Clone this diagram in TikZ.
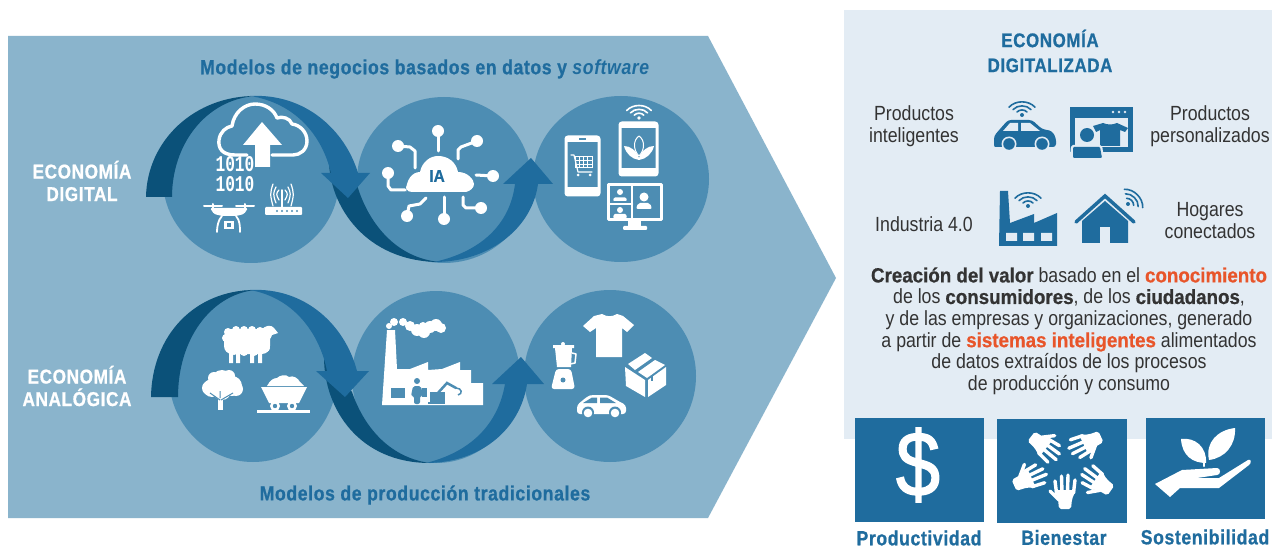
\documentclass[tikz,border=0pt]{standalone}
\usepackage{fontspec}
\setmainfont{Liberation Sans}[FakeStretch=0.865,BoldFeatures={FakeStretch=0.915,FakeBold=0.6}]
\newfontfamily\titlef{Liberation Sans}[FakeStretch=0.86,LetterSpace=3,BoldFeatures={FakeBold=0.8}]
\newfontfamily\monof{Liberation Mono}[FakeStretch=0.72]
\newfontfamily\dollarf{Liberation Sans}[FakeStretch=0.86,FakeBold=1.5]
\definecolor{bgblue}{HTML}{8AB4CC}
\definecolor{circ}{HTML}{4D8DB3}
\definecolor{darkb}{HTML}{0B5179}
\definecolor{midb}{HTML}{1F6C9E}
\definecolor{panel}{HTML}{E3ECF4}
\definecolor{accent}{HTML}{E8552A}
\definecolor{bodyc}{HTML}{333333}
\tikzset{
 wl/.style={draw=white,line width=#1,line cap=round,line join=round,fill=none},
 wl/.default=2.5,
 ttl/.style={font=\titlef\bfseries\fontsize{20.5}{24}\selectfont,text=midb,align=center,inner sep=0pt},
 wttl/.style={font=\titlef\bfseries\fontsize{20}{22.5}\selectfont,text=white,align=center,inner sep=0pt},
 bodyt/.style={font=\fontsize{20.5}{22}\selectfont,text=bodyc,align=center,inner sep=0pt},
}
% wifi: x,y,scale,colour,rotation
\newcommand{\wifisym}[5]{%
 \begin{scope}[shift={(#1,#2)},rotate=#5,scale=#3]
  \fill[#4] (0,0) circle[radius=2];
  \foreach \a in {5,9,13}{
   \draw[#4,line width=1.6pt,line cap=round] (-\a,-\a*0.6) .. controls (-\a*0.5,-\a*1.15) and (\a*0.5,-\a*1.15) .. (\a,-\a*0.6);
  }
 \end{scope}}
\newcommand{\handsym}[3]{%
 \begin{scope}[shift={(#1,#2)},rotate=#3]
  \fill[white,rounded corners=2] (-6,1) -- (6,1) -- (7,-9) -- (11,-18) -- (-11,-18) -- (-7,-9) -- cycle;
  \draw[white,line width=3.4pt,line cap=round] (-8.5,-15) -- (-10,-27) (-3,-16) -- (-3.5,-32) (2.5,-16) -- (3,-33) (8.5,-15) -- (10,-28) (-6,-8) -- (-15,-17);
 \end{scope}}
\begin{document}
\begin{tikzpicture}[x=1pt,y=-1pt]
\useasboundingbox (0,0) rectangle (1272,548);
\fill[white] (0,0) rectangle (1272,548);
% big arrow
\fill[bgblue] (8,36) -- (708,36) -- (836,278) -- (708,518) -- (8,518) -- cycle;
% panel
\fill[panel] (844,10) rectangle (1272,439);
% circles top
\fill[circ] (251,180) ellipse[x radius=88,y radius=83];
\fill[circ] (444,180) ellipse[x radius=87,y radius=83];
\fill[circ] (621,179) ellipse[x radius=88,y radius=83];
% circles bottom
\fill[circ] (253,376) ellipse[x radius=84,y radius=86];
\fill[circ] (436,377) ellipse[x radius=84,y radius=86];
\fill[circ] (610,376) ellipse[x radius=86,y radius=86];
% top flow
\fill[darkb] (146,197) .. controls (147,140) and (195,96) .. (255,96) .. controls (205,100) and (172,145) .. (172,197) -- cycle;
\fill[darkb] (329,160) .. controls (329,205) and (365,262) .. (440,262) .. controls (395,258) and (368,222) .. (357,185) -- cycle;
\fill[midb] (250,96) .. controls (305,93) and (345,130) .. (358,173) -- (370,173) -- (348,198) -- (321,173) -- (331,173) .. controls (322,135) and (295,103) .. (250,96) -- cycle;
\fill[midb] (434,262) .. controls (490,262) and (532,228) .. (538,184) -- (553,184) -- (531,158) -- (503,184) -- (515,184) .. controls (510,225) and (480,252) .. (434,262) -- cycle;
% bottom flow
\fill[darkb] (151,397) .. controls (152,335) and (195,290) .. (255,290) .. controls (210,295) and (178,340) .. (178,397) -- cycle;
\fill[darkb] (324,357) .. controls (324,410) and (360,463) .. (430,463) .. controls (392,458) and (365,430) .. (352,392) -- cycle;
\fill[midb] (250,290) .. controls (305,287) and (345,325) .. (357,371) -- (369,371) -- (345,397) -- (316,371) -- (327,371) .. controls (320,335) and (295,298) .. (250,290) -- cycle;
\fill[midb] (426,463) .. controls (480,463) and (520,430) .. (527,384) -- (544,384) -- (521,357) -- (492,384) -- (505,384) .. controls (498,425) and (470,452) .. (426,463) -- cycle;
% texts left
\node[ttl] (t1) at (425,69) {Modelos de negocios basados en datos y \textit{software}};
\node[ttl] (t2) at (425,495) {Modelos de producción tradicionales};
\node[wttl] (t3) at (82,181) {ECONOMÍA\\DIGITAL};
\node[wttl] (t4) at (77,386) {ECONOMÍA\\ANALÓGICA};
% --- cloud upload
\draw[wl=3.4] (247,155) -- (235,155) .. controls (222,155) and (218,148) .. (219,140) .. controls (220,132) and (226,127) .. (232,126) .. controls (234,112) and (245,104) .. (255,104) .. controls (266,104) and (274,110) .. (277,118) .. controls (282,116) and (290,118) .. (292,124) .. controls (300,125) and (307,132) .. (307,141) .. controls (307,150) and (300,155) .. (293,155) -- (272,155);
\fill[white] (262,122) -- (282,145) -- (270,145) -- (270,167) -- (255,167) -- (255,145) -- (243,145) -- cycle;
\node[font=\monof\bfseries\fontsize{22.5}{22}\selectfont,text=white,inner sep=0pt] (b1) at (235,164) {1010};
\node[font=\monof\bfseries\fontsize{22.5}{22}\selectfont,text=white,inner sep=0pt] (b2) at (235,184) {1010};
% router
\fill[white,rounded corners=1] (265,207) rectangle (302,215);
\draw[wl=1.5] (282,190) -- (282,207);
\foreach \d in {3,6,9}{
 \draw[wl=1.2] (282-\d,193-\d) .. controls (282-\d-3,193) and (282-\d-3,195) .. (282-\d,197+\d);
 \draw[wl=1.2] (282+\d,193-\d) .. controls (282+\d+3,193) and (282+\d+3,195) .. (282+\d,197+\d);
}
\foreach \d in {277,282,287,292,297}{\fill[circ] (\d,211) circle[radius=1.1];}
% drone
\draw[wl=2] (204,206) -- (222,206) (236,206) -- (254,206);
\draw[wl=2] (213,204) -- (213,208) (245,204) -- (245,208);
\fill[white,rounded corners=1.5] (210,208) -- (248,208) -- (244,214) -- (236,216) -- (222,216) -- (214,214) -- cycle;
\draw[wl=1.8] (222,216) .. controls (218,220) and (217,227) .. (217,232) (236,216) .. controls (240,220) and (240,227) .. (240,232);
\fill[white] (224,221) rectangle (234,229);
\fill[circ] (227,223) rectangle (231,227);
% --- IA cloud
\fill[white] (406,192) .. controls (406,180) and (412,172) .. (420,172) .. controls (422,162) and (430,156) .. (438,156) .. controls (448,156) and (456,162) .. (458,172) .. controls (468,172) and (474,180) .. (474,184) .. controls (474,188) and (470,191) .. (466,192) -- (415,192) .. controls (410,192) and (406,192) .. (406,186) -- cycle;
\node[font=\bfseries\fontsize{17}{17}\selectfont,text=midb,inner sep=0pt] (ia) at (437,176) {IA};
\foreach \cx/\cy in {438/131,477/141,493/176,481/208,444/219,407/216,398/146,388/173}{\fill[white] (\cx,\cy) circle[radius=6];}
\draw[wl=3] (438,131) -- (438,151);
\draw[wl=3] (477,141) -- (461,147) -- (458,150) -- (458,159);
\draw[wl=3] (493,176) -- (476,175);
\draw[wl=3] (481,208) -- (466,208) -- (463,205) -- (463,197);
\draw[wl=3] (444,219) -- (444,197);
\draw[wl=3] (407,216) -- (409,206) -- (420,204) -- (426,198);
\draw[wl=3] (398,146) -- (410,147) -- (415,151) -- (415,168);
\draw[wl=3] (388,173) -- (388,186) -- (391,190) -- (405,190);
% --- phone
\draw[wl=3,rounded corners=2] (566,137) rectangle (599,195);
\fill[white] (566,137) rectangle (599,142);
\fill[white] (566,187) rectangle (599,195);
\fill[circ] (579,138.5) rectangle (586,140.5);
\draw[wl=1.2] (571,155) -- (574,155) -- (578,172) -- (592,172);
\draw[white,line width=1pt] (575,157) rectangle (592,168);
\foreach \q in {579,583,587}{\draw[white,line width=.8pt] (\q,157) -- (\q,168);}
\draw[white,line width=.8pt] (575,160.5) -- (592,160.5) (575,164) -- (592,164);
\fill[white] (578,175) circle[radius=1.5] (590,175) circle[radius=1.5];
% tablet
\draw[wl=3,rounded corners=2] (620,123) rectangle (657,175);
\fill[white] (620,123) rectangle (657,128);
\fill[white] (620,168) rectangle (657,175);
\wifisym{639}{118}{0.95}{white}{0}
\fill[white] (624,146) .. controls (630,146) and (636,150) .. (639,158) .. controls (642,150) and (648,146) .. (654,146) .. controls (652,154) and (646,159) .. (639,160) .. controls (632,159) and (626,154) .. (624,146) -- cycle;
\draw[wl=1] (639,136) .. controls (633,140) and (633,150) .. (639,156) .. controls (645,150) and (645,140) .. (639,136) -- cycle;
% monitor
\draw[wl=3] (608,185) rectangle (661,220);
\draw[wl=2.5] (632,185) -- (632,220) (608,204) -- (632,204);
\fill[white] (628,220) rectangle (641,228);
\fill[white,rounded corners=1] (623,226) rectangle (647,230);
\fill[white] (620,192) circle[radius=3] (620,210) circle[radius=3] (644,197) circle[radius=4.5];
\fill[white,rounded corners=1] (613,201) -- (614,197.5) -- (626,197.5) -- (627,201) -- cycle;
\fill[white,rounded corners=1] (613,218) -- (614,214) -- (626,214) -- (627,218) -- cycle;
\fill[white,rounded corners=2] (636,209) -- (638,203) -- (650,203) -- (652,209) -- cycle;
% --- sheep
\fill[white,rounded corners=8] (224,329) rectangle (270,354);
\foreach \sx/\sy in {228/332,236/330,244/330,252/330,260/331,228/345,226/338,234/351,244/352,254/352,266/348}{\fill[white] (\sx,\sy) circle[radius=4];}
\fill[white] (261,331) .. controls (265,324) and (272,325) .. (274,328) -- (278,333) -- (272,335) .. controls (270,342) and (264,342) .. (261,338) -- cycle;
\fill[white] (229,350) rectangle (233,363) (236,350) rectangle (240,363) (250,350) rectangle (254,363) (258,350) rectangle (262,363);
% tree
\foreach \sx/\sy/\sr in {222/381/11,212/388/9,209/388/7,232/386/10,236/389/7,222/391/9,214/378/6,229/376/6}{\fill[white] (\sx,\sy) circle[radius=\sr];}
\fill[white] (218,392) rectangle (223,410);
\draw[circ,line width=1pt] (220,400) -- (210,393) (221,400) -- (233,393) (220,398) -- (220,391);
% cart
\fill[white] (261,387) -- (307,387) -- (299,403) -- (269,403) -- cycle;
\fill[white] (267,386) .. controls (270,380) and (274,378) .. (277,378) .. controls (280,375) and (286,374) .. (289,377) .. controls (293,375) and (298,378) .. (300,382) -- (304,386) -- cycle;
\fill[white] (275,406) circle[radius=5] (292,406) circle[radius=5];
\fill[circ] (275,406) circle[radius=2.2] (292,406) circle[radius=2.2];
\fill[white] (257,410) rectangle (310,413);
% --- factory
\fill[white] (387,330) -- (395,330) -- (397,369) -- (410,369) -- (428,362) -- (428,370) -- (442,369) -- (460,362) -- (460,370) -- (471,370) -- (471,383) -- (483,383) -- (483,405) -- (382,405) -- cycle;
\foreach \sx/\sy/\sr in {389/326/3,394/322/4,403/322/4,410/326/5,417/330/6,424/332/6,430/327/6,436/325/6,441/328/5,423/326/4}{\fill[white] (\sx,\sy) circle[radius=\sr];}
\fill[circ] (391,388) rectangle (405,398);
\fill[circ] (417,381) circle[radius=3];
\fill[circ,rounded corners=2] (411,396) -- (413,386) -- (421,386) -- (423,396) -- (420,396) -- (420,404) -- (414,404) -- (414,396) -- cycle;
\fill[circ] (422,388) rectangle (427,397);
\fill[circ] (430,392) rectangle (445,403);
\draw[circ,line width=2.5pt,line cap=round] (437,394) -- (447,383) -- (456,388);
\draw[circ,line width=1.5pt] (456,388) .. controls (462,388) and (463,394) .. (458,395);
\fill[circ] (428,402) rectangle (445,404);
% --- shirt
\fill[white] (602,314) .. controls (607,317) and (612,317) .. (617,314) -- (623,316) -- (634,325) -- (627,332) -- (622,328) -- (622,357) -- (596,357) -- (596,328) -- (590,332) -- (583,326) -- (594,316) -- cycle;
% blender
\fill[white] (553,345) -- (574,345) -- (574,348) -- (572,348) -- (571,367) -- (557,367) -- (555,348) -- (553,348) -- cycle;
\draw[wl=1.5] (572,353) -- (576,354) -- (575,363) -- (570,364);
\fill[white,rounded corners=3] (556,369) -- (571,369) -- (575,389) -- (551,389) -- cycle;
\fill[circ] (563,380) circle[radius=2.5];
\fill[white] (563,344) circle[radius=2];
% box
\fill[white] (625,367) -- (645,380) -- (645,397) -- (626,386) -- cycle;
\fill[white] (648,380) -- (666,367) -- (666,385) -- (648,397) -- cycle;
\fill[white] (628,364) -- (645,353) -- (652,358) -- (635,370) -- cycle;
\fill[white] (638,372) -- (655,360) -- (665,365) -- (647,378) -- cycle;
\fill[circ] (651,376) rectangle (653,381);
% car
\fill[white,rounded corners=3] (577,414) -- (577,405) -- (588,396) -- (592,395) -- (608,395) -- (620,402) -- (626,405) -- (626,414) -- cycle;
\fill[circ] (583,403) -- (592,397.5) -- (597,397.5) -- (597,403) -- cycle;
\fill[circ] (600,397.5) -- (607,397.5) -- (616,403) -- (600,403) -- cycle;
\fill[circ] (588,412.5) circle[radius=6] (615,412.5) circle[radius=6];
\fill[white] (588,413) circle[radius=4.3] (615,413) circle[radius=4.3];
% --- right panel
\node[ttl,font=\titlef\bfseries\fontsize{19.7}{25}\selectfont] (r1) at (1050,51) {ECONOMÍA\\DIGITALIZADA};
\node[bodyt] (r2) at (914,126) {Productos\\inteligentes};
\node[bodyt] (r3) at (1210,126) {Productos\\personalizados};
\node[bodyt] (r4) at (924,224) {Industria 4.0};
\node[bodyt] (r5) at (1210,221) {Hogares\\conectados};
\node[font=\fontsize{20.5}{21.6}\selectfont,text=bodyc,align=center,inner sep=0pt] (r6) at (1069,331) {\textbf{Creación del valor} basado en el \textbf{\textcolor{accent}{conocimiento}}\\
de los \textbf{consumidores}, de los \textbf{ciudadanos},\\
y de las empresas y organizaciones, generado\\
a partir de \textbf{\textcolor{accent}{sistemas inteligentes}} alimentados\\
de datos extraídos de los procesos\\
de producción y consumo};
% car icon
\fill[midb,rounded corners=3] (994,148) -- (994,136) -- (1000,129) -- (1008,120) -- (1032,120) -- (1042,129) -- (1052,131) -- (1056,138) -- (1056,147) -- cycle;
\fill[panel] (1003,131) -- (1010,123) -- (1018,123) -- (1018,131) -- cycle;
\fill[panel] (1021,123) -- (1030,123) -- (1040,131) -- (1021,131) -- cycle;
\fill[panel] (994,147) rectangle (1056,151);
\fill[panel] (1009,144) circle[radius=7.5] (1042,144) circle[radius=7.5];
\fill[midb] (1009,144) circle[radius=5.8] (1042,144) circle[radius=5.8];
\wifisym{1022}{115}{1}{midb}{0}
% screen icon
\fill[midb] (1070,107) rectangle (1133,152);
\fill[panel] (1075,118) rectangle (1128,147);
\fill[panel] (1113,112) circle[radius=1.3] (1119,112) circle[radius=1.3] (1125,112) circle[radius=1.3];
\fill[midb] (1093,126) -- (1103,123) .. controls (1108,125) and (1112,125) .. (1117,123) -- (1128,128) -- (1125,132) -- (1120,130) -- (1120,146) -- (1100,146) -- (1100,130) -- (1096,132) -- cycle;
\fill[panel] (1087,135) circle[radius=9];
\fill[midb] (1087,135) circle[radius=7];
\fill[panel,rounded corners=2] (1070,158) -- (1071,145) -- (1102,145) -- (1104,158) -- cycle;
\fill[midb,rounded corners=1] (1073,158) -- (1073,147) -- (1100,147) -- (1102,158) -- cycle;
% factory icon
\fill[midb] (1000,191) -- (1008,191) -- (1010,223) -- (1034,214) -- (1034,223) -- (1057,213) -- (1057,246) -- (999,246) -- cycle;
\fill[panel] (1006,233) rectangle (1017,241) (1023,233) rectangle (1034,241) (1041,233) rectangle (1052,241);
\wifisym{1028}{206}{1}{midb}{0}
% house icon
\draw[midb,line width=3.5pt,line cap=round,line join=miter] (1076,222) -- (1105,196) -- (1134,222);
\fill[midb] (1082,221) -- (1105,201) -- (1128,221) -- (1128,243) -- (1082,243) -- cycle;
\fill[panel] (1100,227) rectangle (1110,243);
\wifisym{1128}{204}{1}{midb}{-45}
% squares
\fill[midb] (855,418) rectangle (984,522);
\fill[midb] (997,419) rectangle (1127,523);
\fill[midb] (1146,418) rectangle (1265,519);
\node[font=\dollarf\fontsize{92}{92}\selectfont,text=white,inner sep=0pt] (dol) at (918,465) {\$};
% hands
\handsym{1065}{508}{0}
\handsym{1015}{485}{-66}
\handsym{1032}{437}{-128}
\handsym{1100}{437}{115}
\handsym{1110}{490}{55}
% seedling
\fill[white] (1155,484) -- (1182,470) -- (1217,468) .. controls (1221,468) and (1221,475) .. (1217,475) -- (1197,478) -- (1219,478) -- (1248,460) .. controls (1252,458) and (1251,464) .. (1249,465) -- (1219,488) -- (1180,488) -- (1170,497) -- cycle;
\fill[white] (1181,439) .. controls (1195,437) and (1207,447) .. (1206,463) .. controls (1193,463) and (1182,456) .. (1181,439) -- cycle;
\fill[white] (1235,428) .. controls (1236,445) and (1225,458) .. (1209,460) .. controls (1205,442) and (1218,430) .. (1235,428) -- cycle;
\draw[wl=2.2] (1204,462) -- (1204,466);
\node[ttl] (l1) at (919,538) {Productividad};
\node[ttl] (l2) at (1064,537.5) {Bienestar};
\node[ttl] (l3) at (1205,537) {Sostenibilidad};
\end{tikzpicture}
\end{document}
